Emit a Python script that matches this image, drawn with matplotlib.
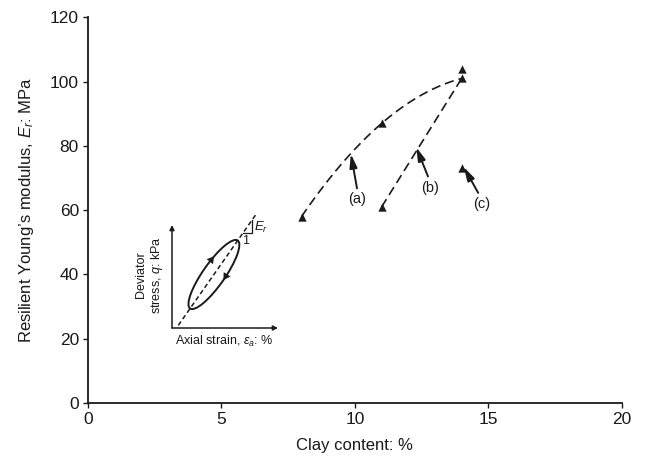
import numpy as np
import matplotlib
matplotlib.use("Agg")
import matplotlib.pyplot as plt
from matplotlib.patches import Ellipse

plt.rcParams['font.family'] = ['Liberation Sans', 'DejaVu Sans']
plt.rcParams['mathtext.fontset'] = 'custom'
plt.rcParams['mathtext.rm'] = 'Liberation Sans'
plt.rcParams['mathtext.it'] = 'Liberation Sans:italic'

INK = '#1a1a1a'

# Measured points: clay content (%) vs resilient modulus (MPa)
clay = [8, 11, 14, 14, 11, 14]
modulus = [58, 87, 104, 101, 61, 73]

# Trend (a): curved path through these points
trend_a_clay = [8, 11, 14]
trend_a_mod = [58, 87, 101]
# Trend (b): straight path
trend_b_clay = [11, 14]
trend_b_mod = [61, 101]

# Labels (a)-(c): text position and arrow tip
label_names = ['(a)', '(b)', '(c)']
label_xy = [(10.1, 63.5), (12.8, 67.0), (14.75, 61.8)]
arrow_tail = [(10.08, 66.8), (12.74, 70.5), (14.62, 65.4)]
arrow_tip = [(9.85, 77.5), (12.3, 79.6), (14.08, 73.4)]

fig = plt.figure(figsize=(6.47, 4.65), dpi=100)
ax = fig.add_axes([0.136, 0.1335, 0.825, 0.829])

# dashed trend lines
coef = np.polyfit(trend_a_clay, trend_a_mod, 2)
xs = np.linspace(trend_a_clay[0], trend_a_clay[-1], 100)
ax.plot(xs, np.polyval(coef, xs), color=INK, lw=1.2, dashes=(5.5, 3), zorder=2)
ax.plot(trend_b_clay, trend_b_mod, color=INK, lw=1.2, dashes=(5.5, 3), zorder=2)

ax.scatter(clay, modulus, marker='^', s=36, color=INK, zorder=3, linewidths=0)

for name, pos, tail, tip in zip(label_names, label_xy, arrow_tail, arrow_tip):
    ax.text(pos[0], pos[1], name, ha='center', va='center', fontsize=10.5, color=INK)
    ax.annotate('', xy=tip, xytext=tail,
                arrowprops=dict(arrowstyle='-|>,head_length=0.9,head_width=0.25',
                                color=INK, lw=1.4, mutation_scale=9,
                                shrinkA=0, shrinkB=0))

ax.set_xlim(0, 20)
ax.set_ylim(0, 120)
ax.set_xticks([0, 5, 10, 15, 20])
ax.set_yticks([0, 20, 40, 60, 80, 100, 120])
ax.spines['top'].set_visible(False)
ax.spines['right'].set_visible(False)
for s in ['left', 'bottom']:
    ax.spines[s].set_color(INK)
    ax.spines[s].set_linewidth(1.3)
ax.tick_params(direction='out', length=3.5, width=1, colors=INK, labelsize=12.5, pad=3)
ax.set_xlabel('Clay content: %', fontsize=12, color=INK, labelpad=8)
ax.set_ylabel('Resilient Young\u2019s modulus, $E_r$: MPa', fontsize=12, color=INK, labelpad=10)

# inset sketch of a stress-strain loop (units are pixels)
ins = fig.add_axes([172 / 647, 1 - 328 / 465, 106 / 647, 103 / 465])
ins.set_xlim(0, 106)
ins.set_ylim(0, 103)
ins.axis('off')
arr = dict(arrowstyle='-|>', color=INK, lw=1.1, mutation_scale=7, shrinkA=0, shrinkB=0)
ins.annotate('', xy=(106, 0), xytext=(0, 0), arrowprops=arr, annotation_clip=False)
ins.annotate('', xy=(0, 103), xytext=(0, 0), arrowprops=arr, annotation_clip=False)

cx, cy, L, W, ang = 41.9, 53.5, 83, 22, 55.0
ins.add_patch(Ellipse((cx, cy), L, W, angle=ang, fill=False, ec=INK, lw=1.4))
th = np.radians(ang)
d = np.array([np.cos(th), np.sin(th)])
p0 = np.array([cx, cy]) - d * 62
p1 = np.array([cx, cy]) + d * 74
ins.plot([p0[0], p1[0]], [p0[1], p1[1]], color=INK, lw=1.1, dashes=(3, 2), clip_on=False)

# direction marks on the loop
def loop_pt(t):
    u = np.array([L / 2 * np.cos(t), W / 2 * np.sin(t)])
    rot = np.array([[np.cos(th), -np.sin(th)], [np.sin(th), np.cos(th)]])
    return np.array([cx, cy]) + rot @ u

for t, dt in [(1.45, -0.25), (-1.3, -0.25)]:
    ins.annotate('', xy=loop_pt(t + dt), xytext=loop_pt(t),
                 arrowprops=dict(arrowstyle='-|>,head_length=0.6,head_width=0.35',
                                 color=INK, lw=0.1, mutation_scale=8,
                                 shrinkA=0, shrinkB=0))

# slope triangle
ins.plot([71.0, 79.7, 79.7], [94.7, 94.7, 107.8], color=INK, lw=0.9, clip_on=False)
ins.text(74, 87.5, '1', fontsize=9, ha='center', va='center', color=INK)
ins.text(82, 101, '$E_r$', fontsize=9.5, ha='left', va='center', color=INK)

ins.text(-22, 53, 'Deviator\nstress, $q$: kPa', rotation=90, fontsize=9,
         ha='center', va='center', color=INK, linespacing=1.15)
ins.text(52, -13, 'Axial strain, $\\varepsilon_a$: %', fontsize=9,
         ha='center', va='center', color=INK)

fig.savefig('out.png', dpi=100)
